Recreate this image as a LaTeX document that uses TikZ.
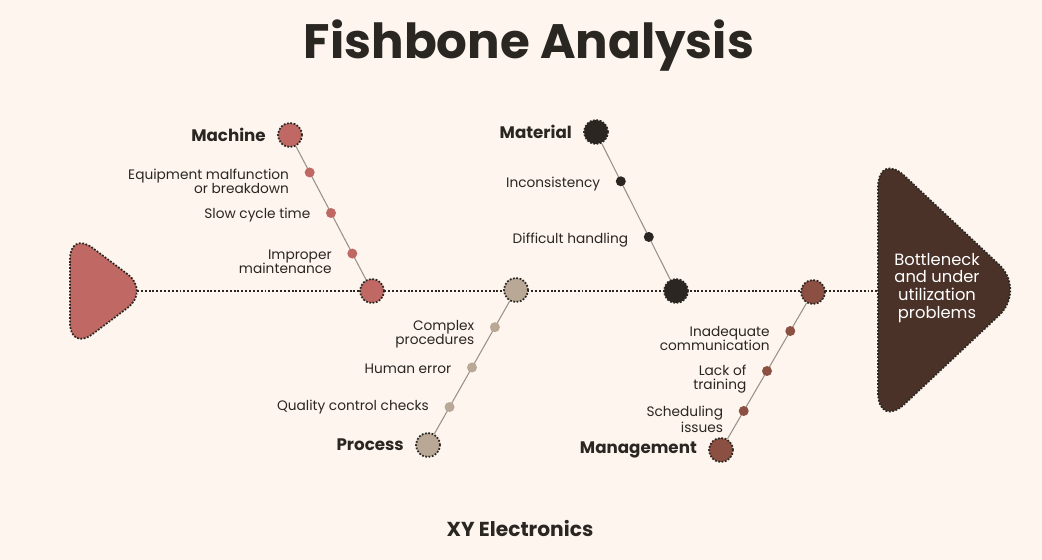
\documentclass[tikz,border=0pt]{standalone}
\usepackage{fontspec}
\setmainfont{Poppins}
\usetikzlibrary{positioning, calc}
\definecolor{paper}{HTML}{FDF5EE}
\definecolor{ink}{HTML}{2A2622}
\definecolor{machinered}{HTML}{C06864}
\definecolor{materialblack}{HTML}{2B2622}
\definecolor{processtan}{HTML}{BAA896}
\definecolor{managebrown}{HTML}{8C5042}
\definecolor{headbrown}{HTML}{4A3228}
\definecolor{bonegray}{HTML}{9A9189}

\begin{document}
\begin{tikzpicture}[x=0.02cm, y=-0.02cm, font=\fontsize{7.8}{8}\selectfont, text=ink, rim/.style={draw=ink, line width=1pt, dash pattern=on 1pt off 0.9pt}, joint/.style={circle, rim, minimum size=0.48cm, inner sep=0pt}, twig/.style={circle, fill=#1, minimum size=0.2cm, inner sep=0pt}, cause/.style={align=right, inner sep=0pt}, category/.style={font=\fontsize{9.5}{11}\selectfont\bfseries, inner sep=0pt}, bone/.style={draw=bonegray, line width=0.6pt}]
\fill[paper] (0,0) rectangle (1042,560);
\node[font=\fontsize{27.5}{32}\selectfont\bfseries] (title) at (529,46) {Fishbone Analysis};
\coordinate (tailtip) at (137,291);
\coordinate (headback) at (878,291);
\draw[fill=machinered, rim, rounded corners=16pt] (70,291) -- (70,231) -- (150,291) -- (70,351) -- cycle;
\draw[fill=headbrown, rim, rounded corners=21pt] (878,291) -- (878,151) -- (1026,290) -- (878,429) -- cycle;
\draw[line width=1.1pt, dash pattern=on 1.1pt off 1.1pt, ink] (tailtip) -- (headback);
\node[text=white, align=center, font=\fontsize{9.3}{10.2}\selectfont] (effect) at (937,288) {Bottleneck\\and under\\utilization\\problems};
\foreach \cat/\col/\hx/\hy/\jx/\jy in {machine/machinered/290/135/372/291, material/materialblack/596/132/676/291, process/processtan/428/445/516/290, management/managebrown/721/450/813/292}{\node[joint, fill=\col] (\cat) at (\hx,\hy) {};\node[joint, fill=\col] (\cat joint) at (\jx,\jy) {};\draw[bone] (\cat) -- (\cat joint);}
\foreach \cat/\lab in {machine/Machine, material/Material, process/Process, management/Management}{\node[category, left=0.22cm of \cat] (\cat label) {\lab};}
\foreach \cat/\col/\t/\lab/\dy [count=\n] in {machine/machinered/0.24/{Equipment malfunction\\or breakdown}/-0.17, machine/machinered/0.5/{Slow cycle time}/-0.04, machine/machinered/0.76/{Improper\\maintenance}/-0.16, material/materialblack/0.31/{Inconsistency}/-0.06, material/materialblack/0.66/{Difficult handling}/-0.06, process/processtan/0.76/{Complex\\procedures}/-0.14, process/processtan/0.5/{Human error}/-0.02, process/processtan/0.245/{Quality control checks}/0, management/managebrown/0.753/{Inadequate\\communication}/-0.15, management/managebrown/0.5/{Lack of\\training}/-0.16, management/managebrown/0.247/{Scheduling\\issues}/-0.16}{\node[twig=\col] (twig\n) at ($(\cat)!\t!(\cat joint)$) {};\node[cause, left=0.3cm of twig\n, yshift=\dy cm] (cause\n) {\lab};}
\node[font=\fontsize{11.5}{13}\selectfont\bfseries] (company) at (520,528) {XY Electronics};
\end{tikzpicture}
\end{document}
